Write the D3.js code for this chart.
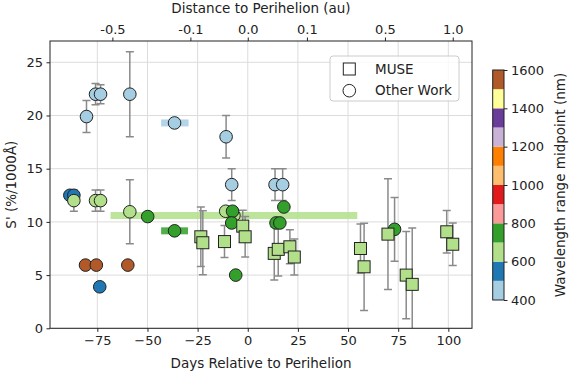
<!DOCTYPE html>
<html>
<head>
<meta charset="utf-8">
<script src="https://cdn.jsdelivr.net/npm/d3@7"></script>
<style>
  body { margin: 0; background: #fff; }
  text { font-family: "DejaVu Sans", sans-serif; fill: #222; }
</style>
</head>
<body>
<script>
// Other work (circles)
const otherDays = [-88.7, -86.7, -86.7, -80.4, -75.9, -73.4, -75.9, -73.4, -58.8, -58.8, -80.9, -75.5, -59.8, -73.8,
                   -49.9, -36.5, -36.5, -10.8, -8.0, -6.9, -11.0, -7.6, -8.0, -6.0, 13.6, 17.4, 14.1, 16.0, 18.0, 73.2];
const otherS    = [12.5, 12.5, 12.0, 19.9, 22.0, 22.0, 12.0, 12.0, 22.0, 10.95, 5.94, 5.94, 5.94, 3.9,
                   10.5, 19.3, 9.16, 18.0, 13.5, 10.6, 11.0, 11.0, 9.9, 5.0, 13.5, 13.5, 9.9, 9.9, 11.4, 9.3];
const otherErr  = [0, 0, 1.0, 1.5, 1.0, 0.9, 1.0, 1.0, 4.0, 3.0, 0, 0, 0, 0,
                   0, 0, 0, 2.0, 1.5, 0, 0, 0, 0, 0, 1.5, 1.5, 0, 0, 0, 3.0];
const otherWl   = [550, 550, 650, 450, 450, 450, 650, 650, 450, 650, 1550, 1550, 1550, 550,
                   750, 450, 750, 450, 450, 650, 650, 750, 750, 750, 450, 450, 750, 750, 750, 750];

// MUSE (squares)
const museDays = [-23.4, -22.4, -11.6, -2.5, -1.3, 13.2, 15.2, 21.0, 23.2, 56.2, 58.0, 69.9, 79.0, 82.0, 99.2, 102.2];
const museS    = [8.6, 8.04, 8.15, 9.6, 8.6, 7.04, 7.42, 7.66, 6.7, 7.5, 5.78, 8.85, 5.0, 4.13, 9.07, 7.9];
const museErr  = [2.8, 3.0, 1.5, 1.5, 1.9, 2.5, 2.5, 1.6, 1.7, 2.3, 4.1, 5.2, 4.1, 5.3, 2.0, 2.0];
const museWl   = [650, 650, 650, 650, 650, 650, 650, 650, 650, 650, 650, 650, 650, 650, 650, 650];

// date-range bars
const spanStart = [-68.4, -43.2, -43.2];
const spanEnd   = [54.6, -29.5, -29.8];
const spanS     = [10.6, 19.3, 9.16];
const spanWl    = [650, 450, 750];

const xTicks = [-75, -50, -25, 0, 25, 50, 75, 100];
const yTicks = [0, 5, 10, 15, 20, 25];
const topTickDays = [-67.5, -28.6, 0, 29.5, 68.4, 102.2];
const topTickLabels = ["-0.5", "-0.1", "0.0", "0.1", "0.5", "1.0"];
const cbTicks = [400, 600, 800, 1000, 1200, 1400, 1600];

const W = 570, H = 373;
const L = 50, R = 472, T = 41, B = 328.3;

const svg = d3.select("body").append("svg")
    .attr("width", W)
    .attr("height", H);

const x = d3.scaleLinear().domain([-98.6, 111.8]).range([L, R]);
const y = d3.scaleLinear().domain([0, 27]).range([B, T]);
const color = d3.scaleQuantize().domain([400, 1600]).range(d3.schemePaired);

// grid
svg.append("g").selectAll("line").data(xTicks).join("line")
    .attr("x1", d => x(d)).attr("x2", d => x(d))
    .attr("y1", T).attr("y2", B)
    .attr("stroke", "#dcdcdc").attr("stroke-width", 1);
svg.append("g").selectAll("line").data(yTicks).join("line")
    .attr("x1", L).attr("x2", R)
    .attr("y1", d => y(d)).attr("y2", d => y(d))
    .attr("stroke", "#dcdcdc").attr("stroke-width", 1);

const plot = svg.append("g");
plot.append("clipPath").attr("id", "clip")
    .append("rect").attr("x", L).attr("y", T).attr("width", R - L).attr("height", B - T);
const inner = plot.append("g").attr("clip-path", "url(#clip)");

// horizontal range bars
inner.selectAll("rect.span").data(spanS).join("rect")
    .attr("class", "span")
    .attr("x", (d, i) => x(spanStart[i]))
    .attr("width", (d, i) => x(spanEnd[i]) - x(spanStart[i]))
    .attr("y", d => y(d) - 3.5)
    .attr("height", 7)
    .attr("fill", (d, i) => color(spanWl[i]))
    .attr("opacity", 0.85);

// error bars
function errBars(days, vals, errs) {
    const idx = d3.range(days.length).filter(i => errs[i] > 0);
    const g = inner.append("g").attr("stroke", "#8a8a8a").attr("stroke-width", 1.5);
    g.selectAll("line.v").data(idx).join("line")
        .attr("x1", i => x(days[i])).attr("x2", i => x(days[i]))
        .attr("y1", i => y(vals[i] - errs[i])).attr("y2", i => y(vals[i] + errs[i]));
    [-1, 1].forEach(s => {
        g.selectAll("line.c" + (s + 1)).data(idx).join("line")
            .attr("class", "c" + (s + 1))
            .attr("x1", i => x(days[i]) - 4).attr("x2", i => x(days[i]) + 4)
            .attr("y1", i => y(vals[i] + s * errs[i])).attr("y2", i => y(vals[i] + s * errs[i]));
    });
}
errBars(otherDays, otherS, otherErr);
errBars(museDays, museS, museErr);

// markers
inner.selectAll("circle.other").data(otherS).join("circle")
    .attr("class", "other")
    .attr("cx", (d, i) => x(otherDays[i]))
    .attr("cy", d => y(d))
    .attr("r", 6.3)
    .attr("fill", (d, i) => color(otherWl[i]))
    .attr("stroke", "#222").attr("stroke-width", 1);

inner.selectAll("rect.muse").data(museS).join("rect")
    .attr("class", "muse")
    .attr("x", (d, i) => x(museDays[i]) - 6)
    .attr("y", d => y(d) - 6)
    .attr("width", 12).attr("height", 12)
    .attr("fill", (d, i) => color(museWl[i]))
    .attr("stroke", "#222").attr("stroke-width", 1);

// axes
const fs = "13px";
const axBottom = svg.append("g").attr("transform", `translate(0,${B})`)
    .call(d3.axisBottom(x).tickValues(xTicks).tickSize(3.5).tickPadding(3.5)
        .tickFormat(d => d3.format("d")(d).replace("-", "\u2212")));
const axLeft = svg.append("g").attr("transform", `translate(${L},0)`)
    .call(d3.axisLeft(y).tickValues(yTicks).tickSize(3.5).tickPadding(3.5));
const axTop = svg.append("g").attr("transform", `translate(0,${T})`)
    .call(d3.axisTop(x).tickValues(topTickDays).tickSize(3.5).tickPadding(3.5)
        .tickFormat((d, i) => topTickLabels[i]));
[axBottom, axLeft, axTop].forEach(a => {
    a.select(".domain").remove();
    a.selectAll("text").style("font-size", fs).attr("fill", "#222");
    a.selectAll("line").attr("stroke", "#222");
});

svg.append("rect")
    .attr("x", L).attr("y", T).attr("width", R - L).attr("height", B - T)
    .attr("fill", "none").attr("stroke", "#222").attr("stroke-width", 1);

svg.append("text").attr("x", (L + R) / 2).attr("y", 368)
    .attr("text-anchor", "middle").style("font-size", "13.5px")
    .text("Days Relative to Perihelion");
svg.append("text").attr("x", (L + R) / 2).attr("y", 13)
    .attr("text-anchor", "middle").style("font-size", "13.5px")
    .text("Distance to Perihelion (au)");
svg.append("text")
    .attr("transform", `translate(16,${(T + B) / 2}) rotate(-90)`)
    .attr("text-anchor", "middle").style("font-size", "13.5px")
    .text("S' (%/1000Å)");

// legend
const lg = svg.append("g");
lg.append("rect").attr("x", 330).attr("y", 56).attr("width", 129).attr("height", 45)
    .attr("rx", 3).attr("fill", "#fff").attr("fill-opacity", 0.8)
    .attr("stroke", "#ccc").attr("stroke-width", 1);
lg.append("rect").attr("x", 343.3).attr("y", 63).attr("width", 12).attr("height", 12)
    .attr("fill", "#fff").attr("stroke", "#222");
lg.append("circle").attr("cx", 349.3).attr("cy", 90.7).attr("r", 6.3)
    .attr("fill", "#fff").attr("stroke", "#222");
lg.append("text").attr("x", 375).attr("y", 69).attr("dy", "0.35em")
    .style("font-size", "13.5px").text("MUSE");
lg.append("text").attr("x", 375).attr("y", 90.7).attr("dy", "0.35em")
    .style("font-size", "13.5px").text("Other Work");

// colorbar
const cb = d3.scaleLinear().domain([400, 1600]).range([300, 70]);
const bins = d3.range(12).map(i => 400 + i * 100);
svg.append("g").selectAll("rect").data(bins).join("rect")
    .attr("x", 492.7).attr("width", 11.3)
    .attr("y", d => cb(d + 100)).attr("height", d => cb(d) - cb(d + 100))
    .attr("fill", d => color(d + 50));
svg.append("rect").attr("x", 492.7).attr("y", 70).attr("width", 11.3).attr("height", 230)
    .attr("fill", "none").attr("stroke", "#222").attr("stroke-width", 1);
const cbAxis = svg.append("g").attr("transform", "translate(504,0)")
    .call(d3.axisRight(cb).tickValues(cbTicks).tickSize(3.5).tickPadding(3.5)
        .tickFormat(d3.format("d")));
cbAxis.select(".domain").remove();
cbAxis.selectAll("text").style("font-size", fs).attr("fill", "#222");
cbAxis.selectAll("line").attr("stroke", "#222");
svg.append("text")
    .attr("transform", "translate(560,185) rotate(-90)")
    .attr("text-anchor", "middle").attr("dy", "0.35em").style("font-size", "13.5px")
    .text("Wavelength range midpoint (nm)");
</script>
</body>
</html>
